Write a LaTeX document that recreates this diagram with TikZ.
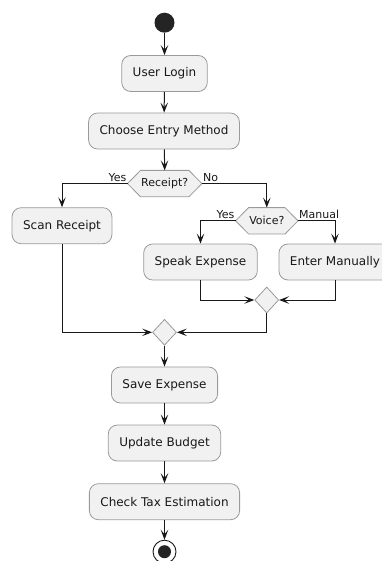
\documentclass[tikz,border=0pt]{standalone}
\usepackage{fontspec}
\setmainfont{DejaVu Sans}
\usetikzlibrary{arrows.meta,shapes.geometric,backgrounds}
\definecolor{boxfill}{HTML}{F1F1F1}
\definecolor{boxline}{HTML}{9A9A9A}
\definecolor{ink}{HTML}{181818}
\tikzset{
  act/.style={draw=boxline, fill=boxfill, rounded corners=9pt, line width=0.8pt,
    minimum height=36pt, inner xsep=11pt, inner ysep=0pt, text=ink,
    font=\fontsize{12}{14}\selectfont},
  hexlbl/.style={draw=none, inner sep=0pt, minimum height=26pt, text=ink,
    font=\fontsize{11}{13}\selectfont},
  hexshape/.style={draw=boxline, fill=boxfill, line width=0.8pt},
  merge/.style={diamond, draw=boxline, fill=boxfill, line width=0.8pt, inner sep=0pt,
    minimum width=24pt, minimum height=26pt},
  flow/.style={draw=ink, line width=1pt, -{Stealth[length=10pt,width=7.5pt,inset=4.5pt]}},
  lbl/.style={inner xsep=1pt, inner ysep=1.5pt, text=ink, font=\fontsize{11}{13}\selectfont},
}
\begin{document}
\begin{tikzpicture}[x=1pt,y=-1pt]
\useasboundingbox (0,0) rectangle (382,561);
\clip (0,0) rectangle (382,561);
% start
\node[circle, fill=ink!95, minimum size=20pt, inner sep=0pt] (start) at (164.5,22.7) {};
\node[act] (login) at (164.5,73.5) {User Login};
\node[act] (choose) at (164,131) {Choose Entry Method};
\node[hexlbl, minimum width=74pt] (rec) at (164.7,183.6) {Receipt?};
\node[act] (scan) at (62,225.7) {Scan Receipt};
\node[hexlbl, minimum width=62pt] (voice) at (266.8,220.8) {Voice?};
\node[act] (speak) at (200.5,262) {Speak Expense};
\node[act] (manual) at (335,262) {Enter Manually};
\node[merge] (m1) at (266.7,300) {};
\node[merge] (m2) at (164.5,332.3) {};
\node[act] (save) at (164.5,385) {Save Expense};
\node[act] (update) at (164.5,443) {Update Budget};
\node[act] (tax) at (164.5,501.7) {Check Tax Estimation};
\node[circle, draw=ink, line width=0.9pt, fill=white, minimum size=23pt, inner sep=0pt] (stop) at (164.5,551.7) {};
\node[circle, fill=ink!95, minimum size=13pt, inner sep=0pt] (stopdot) at (stop.center) {};
\begin{pgfonlayer}{background}
\draw[hexshape] (rec.west) -- ([xshift=13pt]rec.north west) -- ([xshift=-13pt]rec.north east)
  -- (rec.east) -- ([xshift=-13pt]rec.south east) -- ([xshift=13pt]rec.south west) -- cycle;
\draw[hexshape] (voice.west) -- ([xshift=13pt]voice.north west) -- ([xshift=-13pt]voice.north east)
  -- (voice.east) -- ([xshift=-13pt]voice.south east) -- ([xshift=13pt]voice.south west) -- cycle;
\end{pgfonlayer}
% connectors
\draw[flow] (start) -- (login);
\draw[flow] (login) -- (choose);
\draw[flow] (choose) -- (rec.north);
\draw[flow] (rec.west) -| (scan.north);
\draw[flow] (rec.east) -| (voice.north);
\draw[flow] (voice.west) -| (speak.north);
\draw[flow] (voice.east) -| (manual.north);
\draw[flow] (speak.south) |- (m1.west);
\draw[flow] (manual.south) |- (m1.east);
\draw[flow] (scan.south) |- (m2.west);
\draw[flow] (m1.south) |- (m2.east);
\draw[flow] (m2.south) -- (save.north);
\draw[flow] (save) -- (update);
\draw[flow] (update) -- (tax);
\draw[flow] (tax) -- (stop);
% labels
\node[lbl, anchor=south east] (ylab1) at (rec.west) {Yes};
\node[lbl, anchor=south west] (nlab1) at (rec.east) {No};
\node[lbl, anchor=south east] (ylab2) at (voice.west) {Yes};
\node[lbl, anchor=south west] (mlab2) at (voice.east) {Manual};
\end{tikzpicture}
\end{document}
